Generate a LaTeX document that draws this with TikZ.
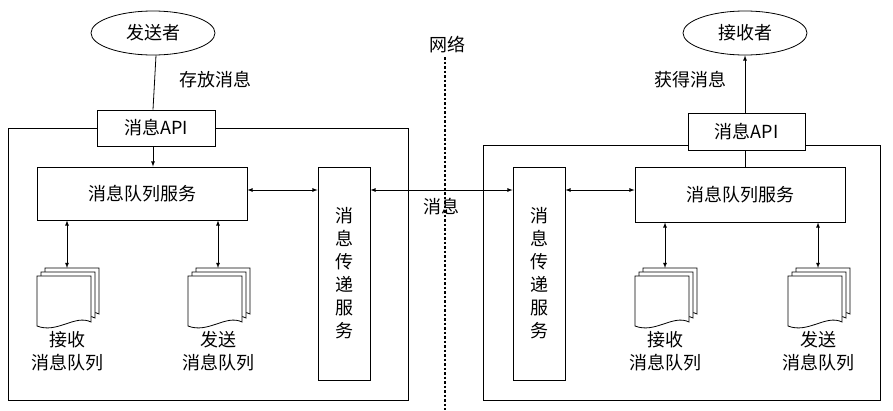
\documentclass[tikz,border=0pt]{standalone}
\usepackage{fontspec}
\setmainfont{Noto Sans CJK SC}
\usetikzlibrary{arrows,shapes.geometric}
\tikzstyle{box} = [rectangle, draw, fill=white, inner sep=0pt]
\tikzstyle{ell} = [ellipse, draw, minimum width=124pt, minimum height=44pt, inner sep=0pt]
\tikzstyle{line} = [draw, -latex]
\tikzstyle{both} = [draw, latex-latex]
\tikzset{
  page/.pic={\draw[fill=white] (0,0) -- (54,0) -- (54,46) .. controls (38,38) and (20,58) .. (0,50) -- cycle;},
  msgdoc/.pic={
    \pic at (8,-8) {page};
    \pic at (4,-4) {page};
    \pic at (0,0) {page};
    \coordinate (-top) at (30,-8);
  }
}
\begin{document}
\begin{tikzpicture}[x=1pt, y=-1pt, font=\fontsize{18}{23}\selectfont, line width=0.8pt]
	\useasboundingbox (0,0) rectangle (893,410);
	% outer frames
	\draw (8,128) rectangle (408,400);
	\draw (483,145) rectangle (880,400);
	% sender side
	\node [ell] (sender) at (153,33) {发送者};
	\node [box, minimum width=118pt, minimum height=36pt] (apiL) at (156,128) {消息API};
	\node at (215,80) {存放消息};
	\node [box, minimum width=210pt, minimum height=53pt] (mqL) at (142,193.5) {消息队列服务};
	\node [box, minimum width=52pt, minimum height=213pt, text width=20pt, align=center] (trL) at (344,273.5) {消\\息\\传\\递\\服\\务};
	\pic (recvL) at (37,276) {msgdoc};
	\pic (sendL) at (188,276) {msgdoc};
	\node [align=center] (recvLt) at (67,351) {接收\\消息队列};
	\node [align=center] (sendLt) at (218,351) {发送\\消息队列};
	% receiver side
	\node [ell] (receiver) at (745,33) {接收者};
	\node [box, minimum width=117pt, minimum height=37pt] (apiR) at (746.5,131.5) {消息API};
	\node at (690,80) {获得消息};
	\node [box, minimum width=210pt, minimum height=55pt] (mqR) at (740,194.5) {消息队列服务};
	\node [box, minimum width=52pt, minimum height=213pt, text width=20pt, align=center] (trR) at (539,273.5) {消\\息\\传\\递\\服\\务};
	\pic (recvR) at (635,276) {msgdoc};
	\pic (sendR) at (788,276) {msgdoc};
	\node [align=center] (recvRt) at (665,351) {接收\\消息队列};
	\node [align=center] (sendRt) at (818,351) {发送\\消息队列};
	% network
	\node (net) at (447,45) {网络};
	\coordinate (netb) at (445,410);
	\draw [dotted, line width=2.5pt] (net.south -| netb) -- (netb);
	% Draw edges
	\draw (sender.south -| apiL) -- (apiL.north -| sender);
	\path [line] (apiL.south -| sender) -- (mqL.north -| sender);
	\path (mqL.east) ++(0,-3.5) coordinate (a);
	\path [both] (a) -- (a -| trL.west);
	\path [both] (recvL-top) -- (recvL-top |- mqL.south);
	\path [both] (sendL-top) -- (sendL-top |- mqL.south);
	\path [both] (trL.east |- a) -- (trR.west |- a) node [pos=0.5, below=4pt] {消息};
	\path [both] (trR.east |- a) -- (mqR.west |- a);
	\path [both] (recvR-top) -- (recvR-top |- mqR.south);
	\path [both] (sendR-top) -- (sendR-top |- mqR.south);
	\draw (mqR.north -| receiver) -- (apiR.south -| receiver);
	\path [line] (apiR.north -| receiver) -- (receiver.south);
\end{tikzpicture}
\end{document}
